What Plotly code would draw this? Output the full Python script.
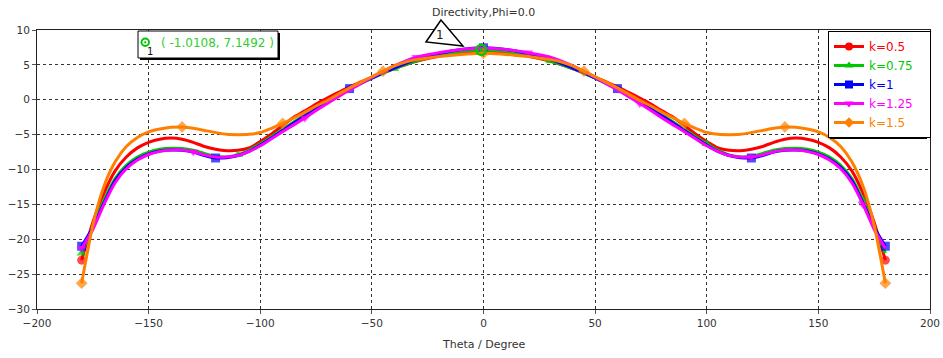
import plotly.graph_objects as go

# ---------------- data (theta 0..180, pattern symmetric) ----------------
theta_half = list(range(0, 181, 5))

k05 = [7.0, 6.95, 6.8, 6.55, 6.25, 5.9, 5.5, 5.0, 4.45, 3.9, 3.25, 2.55, 1.85, 1.05, 0.25,
       -0.6, -1.6, -2.5, -3.7, -4.9, -6.0, -6.9, -7.25, -7.3, -7.1, -6.7, -6.1, -5.65, -5.5,
       -5.65, -6.1, -6.9, -8.2, -10.2, -13.4, -17.6, -23.0]
k075 = [7.15, 7.1, 6.95, 6.7, 6.4, 6.0, 5.55, 5.05, 4.45, 3.8, 3.1, 2.35, 1.6, 0.7, -0.25,
        -1.2, -2.2, -3.2, -4.25, -5.3, -6.3, -7.2, -7.9, -8.2, -8.1, -7.7, -7.25, -7.0, -6.95,
        -7.1, -7.5, -8.2, -9.4, -11.3, -14.4, -18.2, -22.0]
k1 = [7.45, 7.4, 7.2, 6.95, 6.6, 6.2, 5.75, 5.2, 4.55, 3.85, 3.1, 2.35, 1.6, 0.7, -0.3,
      -1.3, -2.3, -3.35, -4.4, -5.5, -6.5, -7.4, -8.0, -8.3, -8.35, -8.0, -7.5, -7.25, -7.2,
      -7.35, -7.75, -8.5, -9.7, -11.6, -14.8, -18.3, -21.0]
k125 = [7.4, 7.35, 7.2, 7.0, 6.75, 6.45, 6.1, 5.55, 4.85, 4.05, 3.2, 2.3, 1.4, 0.45, -0.55,
        -1.55, -2.6, -3.6, -4.6, -5.6, -6.6, -7.4, -8.0, -8.2, -8.2, -7.9, -7.45, -7.2, -7.2,
        -7.4, -7.85, -8.65, -9.9, -11.9, -15.0, -18.6, -21.3]
k15 = [6.65, 6.6, 6.5, 6.35, 6.2, 6.0, 5.75, 5.4, 4.85, 4.1, 3.3, 2.5, 1.7, 0.8, -0.1,
       -0.9, -1.8, -2.6, -3.4, -4.1, -4.7, -4.95, -5.0, -4.95, -4.7, -4.4, -4.1, -3.9, -3.95,
       -4.2, -4.6, -5.4, -6.7, -8.9, -12.4, -18.0, -26.3]

series_names = ["k=0.5", "k=0.75", "k=1", "k=1.25", "k=1.5"]
series_values = [k05, k075, k1, k125, k15]
series_colors = ["#ff0000", "#00c800", "#0000ff", "#ff00ff", "#ff8000"]
series_symbols = ["circle", "triangle-up", "square", "triangle-down", "diamond"]
# theta positions where each curve shows a marker
series_marks = [
    [-180, 0, 180],
    [-180, -110, -40, 30, 100, 170],
    [-180, -120, -60, 0, 60, 120, 180],
    [-180, -130, -80, -30, 20, 70, 120, 170],
    [-180, -135, -90, -45, 0, 45, 90, 135, 180],
]

marker_theta = -1.0108
marker_value = 7.1492

x_ticks = [-200, -150, -100, -50, 0, 50, 100, 150, 200]
y_ticks = [-30, -25, -20, -15, -10, -5, 0, 5, 10]

# full theta range from the symmetric half
theta = [-t for t in theta_half[::-1]] + theta_half[1:]

fig = go.Figure()
for name, half, col, sym, marks in zip(series_names, series_values, series_colors,
                                       series_symbols, series_marks):
    vals = half[::-1] + half[1:]
    sizes = [9 if t in marks else 0 for t in theta]
    fig.add_trace(go.Scatter(
        x=theta, y=vals, mode="lines+markers", showlegend=False,
        line=dict(color=col, width=3, shape="spline", smoothing=0.6),
        marker=dict(symbol=sym, size=sizes, color=col, line=dict(width=0)),
    ))

# legend entries
for name, col, sym in zip(series_names, series_colors, series_symbols):
    fig.add_trace(go.Scatter(
        x=[None], y=[None], mode="lines+markers",
        name=f'<span style="color:{col}">{name}</span>&nbsp;&nbsp;&nbsp;',
        line=dict(color=col, width=3),
        marker=dict(symbol=sym, size=8, color=col, line=dict(width=0)),
    ))

# marker 1
fig.add_trace(go.Scatter(
    x=[marker_theta], y=[marker_value], mode="markers", showlegend=False,
    marker=dict(symbol="circle-open-dot", size=10, color="#00c800", line=dict(width=2.5)),
))

W, H = 943, 358
L, R, T, B = 37, 13, 30, 49
PW, PH = W - L - R, H - T - B


def px(x):
    return (x - L) / PW


def py(y):
    return (H - B - y) / PH


shapes = []
# callout triangle "1"
tri = [(441, 20), (426, 42), (463, 46)]
path = "M " + " L ".join(f"{px(a):.4f},{py(b):.4f}" for a, b in tri) + " Z"
shapes.append(dict(type="path", xref="paper", yref="paper", path=path,
                   fillcolor="white", line=dict(color="black", width=1.5)))
# marker info box (with shadow)
shapes.append(dict(type="rect", xref="paper", yref="paper",
                   x0=px(140), x1=px(280), y0=py(60), y1=py(33),
                   fillcolor="black", line=dict(width=0)))
shapes.append(dict(type="rect", xref="paper", yref="paper",
                   x0=px(138), x1=px(278), y0=py(58), y1=py(31),
                   fillcolor="white", line=dict(color="black", width=1)))
# green marker symbol in the box
shapes.append(dict(type="circle", xref="paper", yref="paper",
                   x0=px(141.5), x1=px(149), y0=py(46), y1=py(38.5),
                   line=dict(color="#00c800", width=2)))
shapes.append(dict(type="circle", xref="paper", yref="paper",
                   x0=px(144.5), x1=px(146), y0=py(43), y1=py(41.5),
                   fillcolor="#00c800", line=dict(color="#00c800", width=1)))
# legend shadow
shapes.append(dict(type="rect", xref="paper", yref="paper",
                   x0=px(830), x1=px(927), y0=py(139), y1=py(33),
                   fillcolor="black", line=dict(width=0), layer="above"))


def note(text, x, y, size, color):
    return dict(text=text, xref="paper", yref="paper", x=px(x), y=py(y),
                xanchor="center", yanchor="middle", showarrow=False,
                font=dict(size=size, color=color))


annotations = [
    note("Directivity,Phi=0.0", 483, 12, 11, "#333333"),
    note("Theta / Degree", 483, 345, 11, "#333333"),
    note("1", 440, 35, 12, "#222222"),
    note("1", 149.5, 52, 10, "#111111"),
    note("( -1.0108, 7.1492 )", 217, 43, 12, "#33cc33"),
]

axis_common = dict(
    showgrid=True, gridcolor="#333333", gridwidth=1, griddash="dot",
    zeroline=False, showline=True, linecolor="#222222", linewidth=1, mirror=True,
    ticks="outside", ticklen=4, tickcolor="#555555", automargin=False,
    tickfont=dict(size=10.5, color="#333333", family="DejaVu Sans"),
)

fig.update_layout(
    width=W, height=H,
    margin=dict(l=L, r=R, t=T, b=B, autoexpand=False),
    paper_bgcolor="white", plot_bgcolor="white",
    font=dict(family="DejaVu Sans", size=12),
    xaxis=dict(range=[-200, 200], tickvals=x_ticks, **axis_common),
    yaxis=dict(range=[-30, 10], tickvals=y_ticks, **axis_common),
    legend=dict(x=px(828), y=py(31), xanchor="left", yanchor="top",
                bgcolor="white", bordercolor="black", borderwidth=1,
                itemwidth=30, tracegroupgap=0,
                font=dict(size=12, family="DejaVu Sans")),
    shapes=shapes,
    annotations=annotations,
    showlegend=True,
)

fig.write_html("out.html")
